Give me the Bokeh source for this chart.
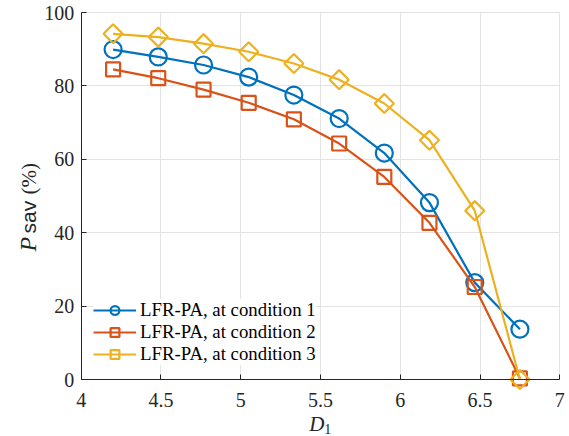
import math
from bokeh.plotting import figure
from bokeh.models import Range1d, Label, Legend, LegendItem, FixedTicker
from bokeh.embed import file_html
from bokeh.resources import INLINE

# Data
d1 = [4.20, 4.483, 4.767, 5.05, 5.333, 5.617, 5.90, 6.183, 6.467, 6.75]
cond1 = [89.9, 87.9, 85.7, 82.4, 77.5, 71.1, 61.7, 48.2, 26.4, 13.7]
cond2 = [84.5, 82.1, 79.0, 75.4, 70.9, 64.3, 55.2, 42.7, 25.2, 0.3]
cond3 = [94.2, 93.3, 91.5, 89.3, 86.1, 81.7, 75.2, 65.2, 46.0, 0.0]
names = ["LFR-PA, at condition 1", "LFR-PA, at condition 2", "LFR-PA, at condition 3"]
colors = ["#0072BD", "#D95319", "#EDB120"]
xticks = [4, 4.5, 5, 5.5, 6, 6.5, 7]
yticks = [0, 20, 40, 60, 80, 100]

SERIF = "Liberation Serif"
W, H = 569, 436
# frame edges of the axes box (pixels in the canvas)
L, R, T, B = 80.7, 559.3, 12.0, 379.0
kx = (R - L) / (xticks[-1] - xticks[0])
ky = (B - T) / (yticks[-1] - yticks[0])
x_rng = Range1d(xticks[0] - L / kx, xticks[-1] + (W - R) / kx)
y_rng = Range1d(yticks[0] - (H - B) / ky, yticks[-1] + T / ky)

p = figure(width=W, height=H, output_backend="svg", toolbar_location=None,
           x_range=x_rng, y_range=y_rng)
p.min_border = 0
p.min_border_left = 0
p.min_border_right = 0
p.min_border_top = 0
p.min_border_bottom = 0
p.background_fill_color = "white"
p.border_fill_color = "white"
p.outline_line_color = None

xa, ya = p.xaxis[0], p.yaxis[0]
xa.fixed_location = yticks[0]
ya.fixed_location = xticks[0]
xa.bounds = (xticks[0], xticks[-1])
ya.bounds = (yticks[0], yticks[-1])
for ax in (xa, ya):
    ax.axis_line_color = "#262626"
    ax.major_tick_line_color = "#262626"
    ax.major_tick_in = 5
    ax.major_tick_out = 0
    ax.minor_tick_line_color = None
    ax.major_label_text_font = SERIF
    ax.major_label_text_font_size = "20px"
    ax.major_label_text_color = "#262626"
xa.ticker = FixedTicker(ticks=xticks)
ya.ticker = FixedTicker(ticks=yticks)
xa.major_label_overrides = {4: "4", 4.5: "4.5", 5: "5", 5.5: "5.5", 6: "6", 6.5: "6.5", 7: "7"}
xa.major_label_standoff = 13
ya.major_label_standoff = 7

xg, yg = p.xgrid[0], p.ygrid[0]
xg.ticker = FixedTicker(ticks=xticks)
yg.ticker = FixedTicker(ticks=yticks)
xg.bounds = (xticks[0], xticks[-1])
yg.bounds = (yticks[0], yticks[-1])
if "cross_bounds" in xg.properties():
    xg.cross_bounds = (yticks[0], yticks[-1])
    yg.cross_bounds = (xticks[0], xticks[-1])
for g in (xg, yg):
    g.grid_line_color = "#e3e3e3"
    g.grid_line_width = 1

items = []
series = [cond1, cond2, cond3]
for i, (ys, c, nm) in enumerate(zip(series, colors, names)):
    ln = p.line(d1, ys, line_color=c, line_width=2.2)
    if i == 0:
        mk = p.scatter(d1, ys, marker="circle", size=17, fill_color=None,
                       line_color=c, line_width=2.2)
    elif i == 1:
        mk = p.scatter(d1, ys, marker="square", size=14, fill_color=None,
                       line_color=c, line_width=2.2)
    else:
        mk = p.scatter(d1, ys, marker="square", size=13.5, angle=math.pi / 4,
                       fill_color=None, line_color=c, line_width=2.2)
    items.append(LegendItem(label=nm, renderers=[ln, mk]))

leg = Legend(items=items, location=(93, 71))
leg.label_text_font = SERIF
leg.label_text_font_size = "18.8px"
leg.label_text_color = "#000000"
leg.glyph_width = 43
leg.glyph_height = 22
leg.label_height = 22
leg.label_standoff = 4
leg.spacing = 0
leg.padding = 4
leg.margin = 0
leg.border_line_color = None
leg.background_fill_color = "white"
leg.background_fill_alpha = 1.0
p.add_layout(leg, "center")

x0, y0 = xticks[0], yticks[0]
# x axis label: D_1
p.add_layout(Label(x=x0, y=y0, x_offset=228, y_offset=-44.5, text="D",
                   text_font=SERIF, text_font_style="italic", text_font_size="21px",
                   text_baseline="alphabetic", text_align="left", text_color="#262626"))
p.add_layout(Label(x=x0, y=y0, x_offset=243, y_offset=-49, text="1",
                   text_font=SERIF, text_font_size="14px",
                   text_baseline="alphabetic", text_align="left", text_color="#262626"))

# y axis label: P_sav(%)
ang = math.pi / 2
p.add_layout(Label(x=x0, y=y0, x_offset=-53, y_offset=128, text="P", angle=ang,
                   text_font=SERIF, text_font_style="italic", text_font_size="24px",
                   text_baseline="alphabetic", text_align="left", text_color="#262626"))
p.add_layout(Label(x=x0, y=y0, x_offset=-53, y_offset=146, text="sav", angle=ang,
                   text_font="Liberation Sans", text_font_size="21px",
                   text_baseline="alphabetic", text_align="left", text_color="#262626"))
p.add_layout(Label(x=x0, y=y0, x_offset=-52, y_offset=185, text="(%)", angle=ang,
                   text_font=SERIF, text_font_size="21px",
                   text_baseline="alphabetic", text_align="left", text_color="#262626"))

open("out.html", "w").write(file_html(p, INLINE))
